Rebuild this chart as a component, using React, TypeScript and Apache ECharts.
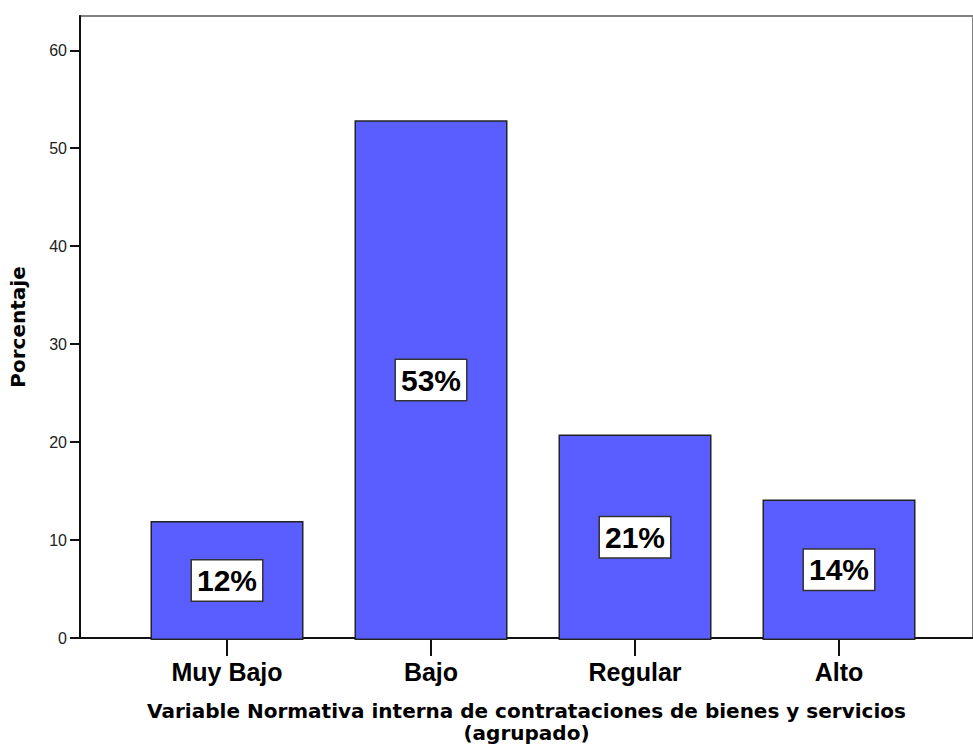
import React, { useEffect, useRef } from "react";
import * as echarts from "echarts";

const categories = ["Muy Bajo", "Bajo", "Regular", "Alto"];
const percentages = [12.1, 52.9, 20.9, 14.3];
const yTicks = [0, 10, 20, 30, 40, 50, 60];
const yMax = 63.5;
const yAxisTitle = "Porcentaje";
const xAxisTitle = "Variable Normativa interna de contrataciones de bienes y servicios\n(agrupado)";

export default function App() {
  const ref = useRef<HTMLDivElement>(null);
  useEffect(() => {
    if (!ref.current) return;
    const chart = echarts.init(ref.current, undefined, { renderer: "svg" });
    chart.setOption({
      animation: false,
      backgroundColor: "#ffffff",
      grid: [
        { left: 80, top: 16, width: 905, height: 624, show: true, borderColor: "#808080", borderWidth: 2, backgroundColor: "transparent" },
        { left: 125, top: 16, width: 816, height: 624 },
      ],
      xAxis: [
        {
          type: "value",
          gridIndex: 0,
          min: 0,
          max: 1,
          position: "bottom",
          axisLine: { show: true, lineStyle: { color: "#111", width: 2 } },
          axisTick: { show: false },
          axisLabel: { show: false },
          splitLine: { show: false },
          name: xAxisTitle,
          nameLocation: "middle",
          nameGap: 62,
          nameTextStyle: { fontFamily: "DejaVu Sans", fontWeight: "bold", fontSize: 20, color: "#000", lineHeight: 22 },
        },
        {
          type: "category",
          gridIndex: 1,
          data: categories,
          axisLine: { show: false },
          axisTick: { show: true, alignWithLabel: true, length: 16, lineStyle: { color: "#111", width: 2 } },
          axisLabel: { fontFamily: "Liberation Sans", fontWeight: "bold", fontSize: 25, color: "#000", margin: 19 },
        },
      ],
      yAxis: [
        {
          type: "value",
          gridIndex: 0,
          min: 0,
          max: yMax,
          axisLine: { show: true, lineStyle: { color: "#111", width: 2 } },
          axisTick: { show: true, length: 10, customValues: yTicks, lineStyle: { color: "#111", width: 2 } },
          axisLabel: { customValues: yTicks, fontFamily: "Liberation Sans", fontSize: 16, color: "#222", margin: 13 },
          splitLine: { show: false },
          name: yAxisTitle,
          nameLocation: "middle",
          nameGap: 52,
          nameTextStyle: { fontFamily: "DejaVu Sans", fontWeight: "bold", fontSize: 20, color: "#000" },
        },
        { type: "value", gridIndex: 1, min: 0, max: yMax, show: false },
      ],
      series: [
        {
          type: "bar",
          xAxisIndex: 1,
          yAxisIndex: 1,
          data: percentages,
          barWidth: "75%",
          itemStyle: { color: "#5a5eff", borderColor: "#222", borderWidth: 1.5 },
          label: {
            show: true,
            position: "inside",
            formatter: (p: any) => Math.round(p.value) + "%",
            fontFamily: "Liberation Sans",
            fontWeight: "bold",
            fontSize: 30,
            color: "#000",
            backgroundColor: "#ffffff",
            borderColor: "#333",
            borderWidth: 1.5,
            padding: [4, 5, 2, 5],
            lineHeight: 34,
          },
        },
      ],
    });
    return () => chart.dispose();
  }, []);
  return <div ref={ref} style={{ width: 973, height: 749, position: "absolute", left: 0, top: 0 }} />;
}
